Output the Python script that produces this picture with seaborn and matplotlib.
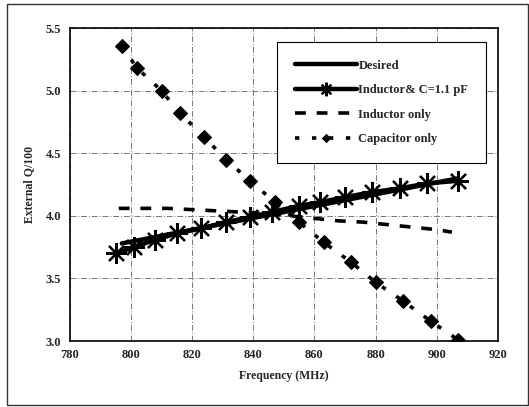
import numpy as np
import pandas as pd
import matplotlib
matplotlib.use("Agg")
import matplotlib.pyplot as plt
import seaborn as sns

# values
freq_desired = [797, 907]
q_desired = [3.78, 4.30]

freq_lc = [795, 801, 808, 815, 823, 831, 839, 846, 855, 862, 870, 879, 888, 897, 907]
q_lc = [3.70, 3.75, 3.81, 3.86, 3.90, 3.95, 3.99, 4.03, 4.08, 4.11, 4.15, 4.19, 4.22, 4.26, 4.28]

freq_ind = [796, 804, 812, 820, 828, 836, 844, 852, 860, 868, 876, 884, 892, 900, 905]
q_ind = [4.06, 4.06, 4.06, 4.05, 4.04, 4.03, 4.02, 4.00, 3.98, 3.96, 3.95, 3.93, 3.91, 3.89, 3.87]

freq_cap = [797, 802, 810, 816, 824, 831, 839, 847, 855, 863, 872, 880, 889, 898, 907]
q_cap = [5.36, 5.18, 5.00, 4.82, 4.63, 4.45, 4.28, 4.11, 3.95, 3.79, 3.63, 3.47, 3.32, 3.16, 3.01]

labels = ["Desired", "Inductor& C=1.1 pF", "Inductor only", "Capacitor only"]

sns.set_theme(style="white")
plt.rcParams['font.family'] = ['Liberation Serif', 'DejaVu Serif']

fig = plt.figure(figsize=(5.29, 4.07), dpi=100)
ax = fig.add_axes([0.132, 0.162, 0.809, 0.769])

# scanned-page frame around the figure
fig.patches.append(plt.Rectangle((0.013, 0.006), 0.985, 0.985, transform=fig.transFigure,
                                 fill=False, edgecolor="#333333", lw=1.0))

sns.lineplot(x=freq_desired, y=q_desired, ax=ax, color="black", lw=3.2, label=labels[0])
sns.lineplot(x=freq_lc, y=q_lc, ax=ax, color="black", lw=3.2, marker=(8, 2, 0),
             markersize=15, markeredgewidth=1.6, markeredgecolor="black", label=labels[1])
sns.lineplot(x=freq_ind, y=q_ind, ax=ax, color="black", lw=2.6, label=labels[2])
sns.lineplot(x=freq_cap, y=q_cap, ax=ax, color="black", lw=2.6, marker="D",
             markersize=7, markeredgecolor="black", label=labels[3])
ax.lines[2].set_dashes((3, 3))
ax.lines[3].set_dashes((1.2, 3.5))

ax.set_xlim(780, 920)
ax.set_ylim(3.0, 5.5)
ax.set_xticks(np.arange(780, 921, 20))
ax.set_yticks(np.arange(3.0, 5.51, 0.5))
ax.set_yticklabels([f"{v:.1f}" for v in np.arange(3.0, 5.51, 0.5)])
ax.tick_params(labelsize=9, length=0, pad=6)
for lbl in ax.get_xticklabels() + ax.get_yticklabels():
    lbl.set_fontweight("bold")
ax.grid(True, color="#777777", lw=0.7, ls=(0, (6, 2, 1, 2)))
for s in ax.spines.values():
    s.set_color("black")
    s.set_linewidth(1.2)

ax.set_xlabel("Frequency (MHz)", fontsize=8.5, fontweight="bold", labelpad=6)
ax.set_ylabel("External Q/100", fontsize=8.5, fontweight="bold", labelpad=8)

leg = ax.legend(loc="upper right", bbox_to_anchor=(0.972, 0.955), borderaxespad=0,
                fontsize=9, frameon=True, fancybox=False, edgecolor="black", framealpha=1,
                handlelength=5.0, handletextpad=0.1, labelspacing=1.0,
                borderpad=1.4, markerscale=0.65)
leg.get_frame().set_linewidth(0.8)
for t in leg.get_texts():
    t.set_fontweight("bold")

fig.savefig("out.png", dpi=100)
